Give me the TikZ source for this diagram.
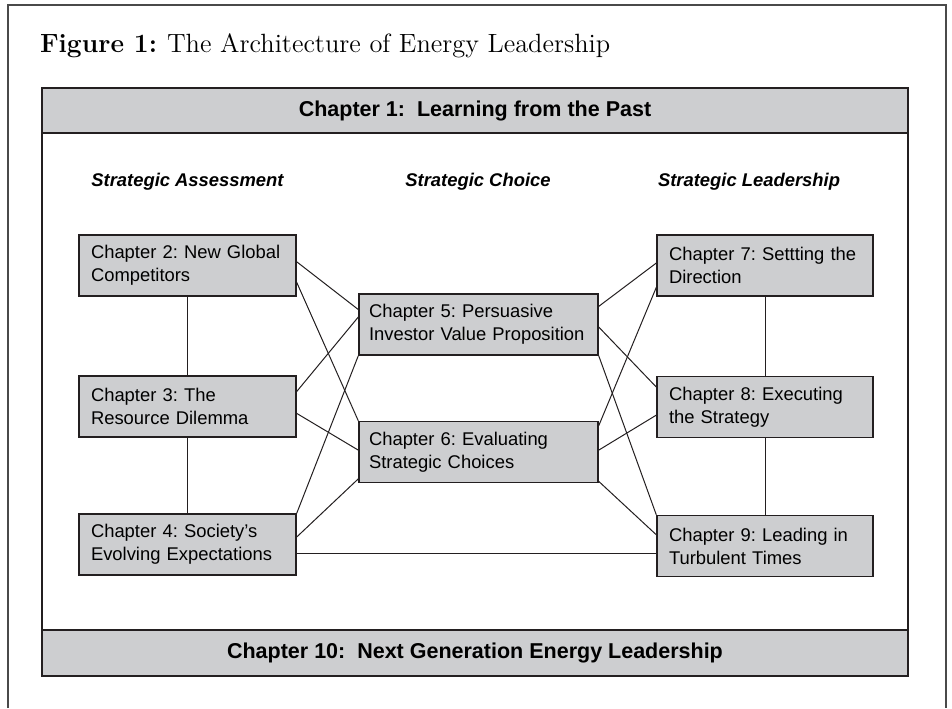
\documentclass[tikz,border=0pt]{standalone}
\usepackage{fontspec}
\setsansfont{Liberation Sans}
\usepackage{tikz}
\usetikzlibrary{positioning, calc}
\definecolor{BoxGray}{HTML}{CDCED0}
\definecolor{InkDark}{HTML}{231F20}
\definecolor{FrameGray}{HTML}{4A4A4A}
\frenchspacing

\tikzset{
  chap/.style={draw=InkDark, line width=0.7pt, fill=BoxGray, align=left,
    inner xsep=6pt, inner ysep=0pt, text width=#1, minimum height=30.5pt,
    font=\sffamily\fontsize{9.2}{11.5}\selectfont},
  bar/.style={draw=InkDark, line width=0.6pt, fill=BoxGray,
    minimum width=433pt, minimum height=#1,
    font=\sffamily\bfseries\fontsize{10.75}{13}\selectfont},
  colhead/.style={anchor=base, font=\sffamily\bfseries\itshape\fontsize{9.2}{11}\selectfont},
  link/.style={draw=InkDark, line width=0.5pt}
}

\begin{document}
\begin{tikzpicture}[x=0.5pt, y=-0.5pt]
\useasboundingbox (0,0) rectangle (952,708);

% page frame, open at the bottom
\draw[FrameGray, line width=0.6pt] (8,708) -- (8,5) -- (946,5) -- (946,708);

\node[anchor=base west, font=\fontsize{13.2}{16}\selectfont] (title) at (33,52)
  {\textbf{Figure 1:}\hspace{5pt}The Architecture of Energy Leadership};

\node[bar=22.5pt] (past) at (475,110.5) {Chapter 1:~~Learning from the Past};
\node[bar=23pt] (next) at (475,653) {Chapter 10:~~Next Generation Energy Leadership};
\draw[InkDark, line width=1.1pt] (42,88) rectangle (908,676);

% column headings
\node[colhead] (assess) at (187.5,186) {Strategic Assessment};
\node[colhead] (choice) at (478,186) {Strategic Choice};
\node[colhead] (lead) at (749,186) {Strategic Leadership};

% chapters
\node[chap=96.5pt] (c2) at (187.5,265.5) {Chapter 2: New Global\\Competitors};
\node[chap=96.5pt] (c3) at (187.5,406.5) {Chapter 3: The\\Resource Dilemma};
\node[chap=96.5pt] (c4) at (187.5,544.5) {Chapter 4: Society's\\Evolving Expectations};
\node[chap=109.5pt, inner xsep=5pt] (c5) at (478.5,324.5) {Chapter 5: Persuasive\\Investor Value Proposition};
\node[chap=109.5pt, inner xsep=5pt] (c6) at (478.5,452) {Chapter 6: Evaluating\\Strategic Choices};
\node[chap=96pt] (c7) at (765,265.5) {Chapter 7: Settting the\\Direction};
\node[chap=96pt] (c8) at (765,407) {Chapter 8: Executing\\the Strategy};
\node[chap=96pt] (c9) at (765,546) {Chapter 9: Leading in\\Turbulent Times};

\draw[link] (c2) -- (c3) (c3) -- (c4);
\draw[link] (c7) -- (c8) (c8) -- (c9);

% crossing links, given as fractions down each side
\foreach \a/\fa/\b/\fb in {c2/.44/c5/.26, c2/.77/c6/0, c3/.26/c5/.38,
    c3/.61/c6/.47, c4/0/c5/1, c4/.38/c6/.93,
    c5/.21/c7/.46, c5/.54/c8/.18, c5/1/c9/0,
    c6/.08/c7/.85, c6/.47/c8/.63, c6/.97/c9/.32}
  \draw[link] ($(\a.north east)!\fa!(\a.south east)$) -- ($(\b.north west)!\fb!(\b.south west)$);

\draw[link] ($(c4.north east)!.64!(c4.south east)$) coordinate (low) -- (low -| c9.west);
\end{tikzpicture}
\end{document}
